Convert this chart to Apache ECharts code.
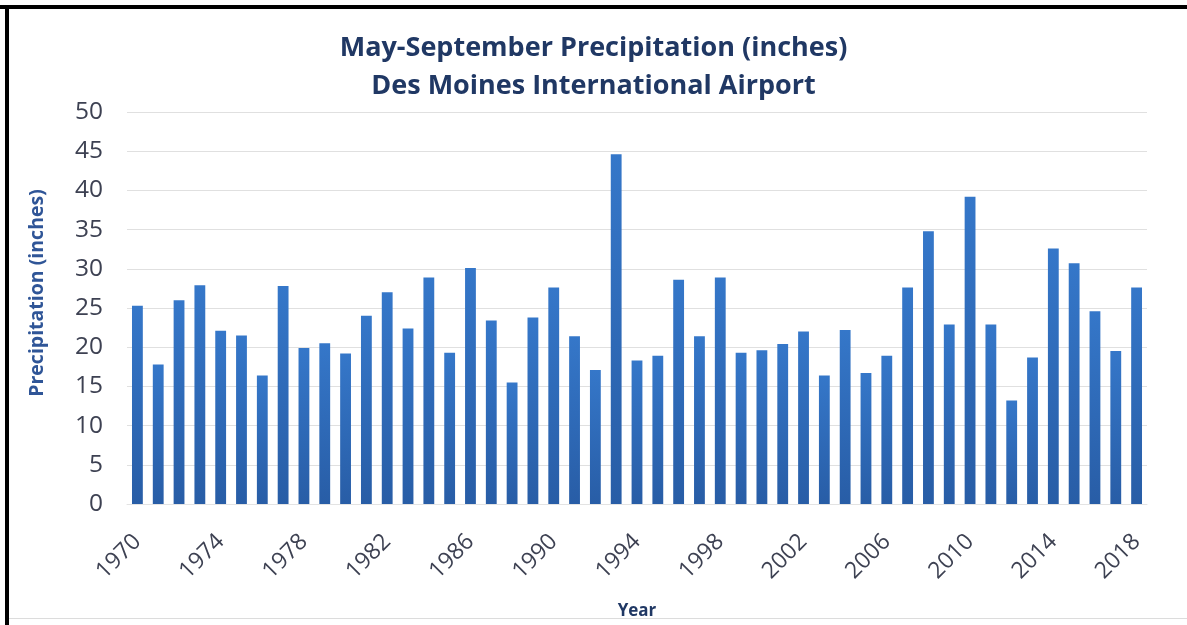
<!DOCTYPE html>
<html>
<head>
<meta charset="utf-8">
<style>
  html, body { margin: 0; padding: 0; background: #ffffff; }
  #chart { width: 1187px; height: 625px; }
</style>
<script src="https://cdn.jsdelivr.net/npm/echarts@6/dist/echarts.min.js"></script>
</head>
<body>
<div id="chart"></div>
<script>
// May–September precipitation totals at Des Moines International Airport
const years = [];
for (let y = 1970; y <= 2018; y++) years.push(String(y));

const precipitation = [
  25.3, 17.8, 26.0, 27.9, 22.1, 21.5, 16.4, 27.8, 19.9, 20.5,
  19.2, 24.0, 27.0, 22.4, 28.9, 19.3, 30.1, 23.4, 15.5, 23.8,
  27.6, 21.4, 17.1, 44.6, 18.3, 18.9, 28.6, 21.4, 28.9, 19.3,
  19.6, 20.4, 22.0, 16.4, 22.2, 16.7, 18.9, 27.6, 34.8, 22.9,
  39.2, 22.9, 13.2, 18.7, 32.6, 30.7, 24.6, 19.5, 27.6
];

const titleLines = ['May-September Precipitation (inches)', 'Des Moines International Airport'];
const yAxisTitle = 'Precipitation (inches)';
const xAxisTitle = 'Year';

const FONT = '"Open Sans", Lato, sans-serif';

const chart = echarts.init(document.getElementById('chart'), null, { renderer: 'canvas' });

chart.setOption({
  animation: false,
  backgroundColor: '#ffffff',
  title: {
    text: titleLines.join('\n'),
    left: 'center',
    top: 29,
    padding: [0, 0, 0, 34],
    textStyle: {
      fontFamily: FONT,
      fontWeight: 'bold',
      fontSize: 27,
      lineHeight: 38,
      color: '#203864'
    }
  },
  grid: { left: 127, right: 40, top: 112, bottom: 117 },
  xAxis: {
    type: 'category',
    data: years,
    name: xAxisTitle,
    nameLocation: 'middle',
    nameGap: 99,
    nameTextStyle: { fontFamily: FONT, fontWeight: 'bold', fontSize: 17, color: '#203864' },
    axisLine: { show: true, lineStyle: { color: '#e3e3e3' } },
    axisTick: { show: false },
    axisLabel: {
      interval: 3,
      rotate: 45,
      margin: 34,
      fontFamily: FONT,
      fontSize: 23,
      color: '#3d4152'
    }
  },
  yAxis: {
    type: 'value',
    min: 0,
    max: 50,
    interval: 5,
    name: yAxisTitle,
    nameLocation: 'middle',
    nameGap: 80,
    nameTextStyle: {
      fontFamily: FONT, fontWeight: 'bold', fontSize: 19.5, color: '#2f5597',
      padding: [0, 0, 0, 30]
    },
    axisLine: { show: false },
    axisTick: { show: false },
    axisLabel: { fontFamily: FONT, fontSize: 24.5, color: '#3d4152', margin: 24 },
    splitLine: { lineStyle: { color: '#e0e0e0', width: 1 } }
  },
  series: [{
    type: 'bar',
    data: precipitation,
    barCategoryGap: '48%',
    itemStyle: {
      color: new echarts.graphic.LinearGradient(0, 0, 0, 1, [
        { offset: 0, color: '#3577c9' },
        { offset: 1, color: '#285da6' }
      ])
    }
  }],
  graphic: [
    { type: 'rect', shape: { x: 0, y: 5, width: 1187, height: 4 }, style: { fill: '#000000' }, z: 100 },
    { type: 'rect', shape: { x: 5, y: 5, width: 4, height: 620 }, style: { fill: '#000000' }, z: 100 },
    { type: 'rect', shape: { x: 9, y: 618, width: 1178, height: 1 }, style: { fill: '#dcdcdc' }, z: 100 }
  ]
});
</script>
</body>
</html>
